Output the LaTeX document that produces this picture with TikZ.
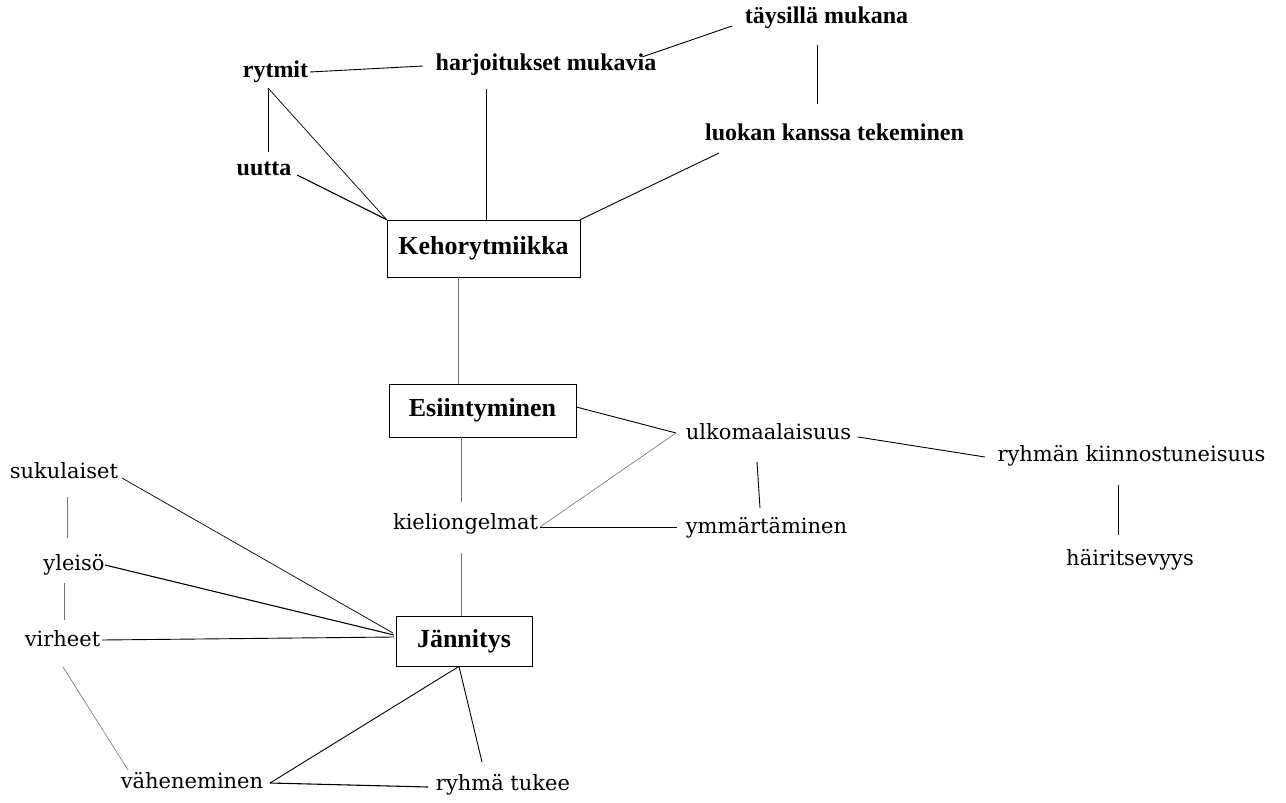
\documentclass[tikz,border=0pt]{standalone}
\usepackage{fontspec}
\setmainfont{Liberation Serif}
\newfontfamily\schoolfont{DejaVu Serif}
\begin{document}
\begin{tikzpicture}[x=1pt,y=-1pt,
  topic/.style={draw=black,line width=0.8pt,inner sep=0pt,
    font=\fontsize{26}{30}\selectfont\bfseries},
  boldlabel/.style={inner sep=0pt,text height=0.8em,text depth=0.1em,
    font=\fontsize{24}{28}\selectfont\bfseries},
  plainlabel/.style={inner sep=0pt,text height=0.8em,text depth=0.1em,
    font=\fontsize{21}{24}\selectfont\schoolfont},
  link/.style={draw=black,line width=0.9pt},
  faintlink/.style={draw=black!55,line width=0.6pt}]

\useasboundingbox (0,0) rectangle (1286,803);
\fill[white] (0,0) rectangle (1286,803);

% central topics
\node[topic,minimum width=193pt,minimum height=57pt] (keho) at (483.5,248.5) {Kehorytmiikka};
\node[topic,minimum width=187pt,minimum height=53pt] (esi)  at (482.5,410.5) {Esiintyminen};
\node[topic,minimum width=136pt,minimum height=50pt] (jann) at (464,641)     {Jännitys};

% upper cluster
\node[boldlabel] (rytmit) at (275.5,74)  {rytmit};
\node[boldlabel] (harj)   at (546,67)    {harjoitukset mukavia};
\node[boldlabel] (tays)   at (826.5,20)  {täysillä mukana};
\node[boldlabel] (luokan) at (834.5,137) {luokan kanssa tekeminen};
\node[boldlabel] (uutta)  at (264,172)   {uutta};

% middle and right cluster
\node[plainlabel] (kieli) at (465.5,526)  {kieliongelmat};
\node[plainlabel] (ulko)  at (768.5,436)  {ulkomaalaisuus};
\node[plainlabel] (ymm)   at (766.5,530)  {ymmärtäminen};
\node[plainlabel] (kiin)  at (1131.5,458) {ryhmän kiinnostuneisuus};
\node[plainlabel] (hair)  at (1130,562)   {häiritsevyys};

% lower left cluster
\node[plainlabel] (suku)  at (64,475)   {sukulaiset};
\node[plainlabel] (yleiso) at (74,567)  {yleisö};
\node[plainlabel] (virh)  at (62.5,643) {virheet};
\node[plainlabel] (vahen) at (192,785)  {väheneminen};
\node[plainlabel] (tukee) at (503,787)  {ryhmä tukee};

% connectors around Kehorytmiikka
\draw[link] ([shift={(34.5,-2)}]rytmit.center) -- ([shift={(-123,-1)}]harj.center);
\draw[link] ([shift={(96,-10)}]harj.center) -- ([shift={(-94.5,6)}]tays.center);
\draw[link] ([shift={(-9.5,25)}]tays.center) -- ([shift={(-17.5,-33)}]luokan.center);
\draw[link] ([shift={(-115.5,16)}]luokan.center) -- (keho.north east);
\draw[link] ([shift={(-60,22)}]harj.center) -- ([shift={(2.5,0)}]keho.north);
\draw[link] ([shift={(-7.5,14)}]rytmit.center) -- ([shift={(4,-20)}]uutta.center);
\draw[link,line width=0.7pt] ([shift={(-7.5,14)}]rytmit.center) -- (keho.north west);
\draw[link,line width=1.1pt] ([shift={(33,3)}]uutta.center) -- (keho.north west);

% spine
\draw[faintlink] ([shift={(-25.5,0)}]keho.south) -- ([shift={(-24.5,0)}]esi.north);
\draw[faintlink] ([shift={(-21.5,0)}]esi.south) -- ([shift={(-4.5,-24)}]kieli.center);
\draw[faintlink] ([shift={(-4.5,27)}]kieli.center) -- ([shift={(-3,0)}]jann.north);

% connectors around Esiintyminen
\draw[link] ([shift={(0,-3.5)}]esi.east) -- ([shift={(-92.5,-3)}]ulko.center);
\draw[faintlink] ([shift={(-92.5,-3)}]ulko.center) -- ([shift={(74.5,1)}]kieli.center);
\draw[link] ([shift={(74.5,1)}]kieli.center) -- ([shift={(-89.5,-3)}]ymm.center);
\draw[link] ([shift={(-11.5,26)}]ulko.center) -- ([shift={(-6.5,-22)}]ymm.center);
\draw[link] ([shift={(89.5,1)}]ulko.center) -- ([shift={(-146.5,-1)}]kiin.center);
\draw[link] ([shift={(-13.5,27)}]kiin.center) -- ([shift={(-12,-27)}]hair.center);

% connectors around Jännitys
\draw[link,line width=0.7pt] ([shift={(58,3)}]suku.center) -- ([shift={(-71,-8)}]jann.center);
\draw[link,line width=1.1pt] ([shift={(31,-2)}]yleiso.center) -- ([shift={(-70,-6)}]jann.center);
\draw[link] ([shift={(39.5,-3)}]virh.center) -- ([shift={(-70,-4)}]jann.center);
\draw[faintlink] ([shift={(3,22)}]suku.center) -- ([shift={(-7,-29)}]yleiso.center);
\draw[faintlink] ([shift={(-10,16)}]yleiso.center) -- ([shift={(1.5,-23)}]virh.center);
\draw[faintlink] ([shift={(0.5,24)}]virh.center) -- ([shift={(-64,-15)}]vahen.center);
\draw[link] ([shift={(78,-2)}]vahen.center) -- ([shift={(-5,0)}]jann.south);
\draw[link,line width=1.1pt] ([shift={(78,-2)}]vahen.center) -- ([shift={(-75,0)}]tukee.center);
\draw[link] ([shift={(-5,0)}]jann.south) -- ([shift={(-21,-25)}]tukee.center);

\end{tikzpicture}
\end{document}
